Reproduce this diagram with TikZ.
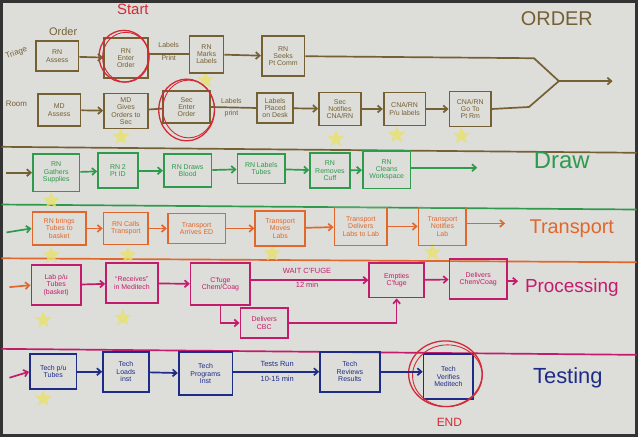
\documentclass[tikz,border=0pt]{standalone}
\usepackage{fontspec}
\setmainfont{Liberation Sans}
\usetikzlibrary{arrows.meta,shapes.geometric}
\definecolor{brn}{HTML}{756033}
\definecolor{grn}{HTML}{2E9A4C}
\definecolor{org}{HTML}{E2672C}
\definecolor{mag}{HTML}{C41C6C}
\definecolor{blu}{HTML}{1E2C88}
\definecolor{rd}{HTML}{D42A36}
\definecolor{yel}{HTML}{E8E26A}
\definecolor{bg}{HTML}{DDDDD9}
\begin{document}
\begin{tikzpicture}[x=1pt,y=-1pt,
  lw/.style={line width=1.7pt},
  bx/.style={draw,line width=1.7pt,align=center,inner sep=1pt,font=\fontsize{7}{7.4}\selectfont},
  wh/.style 2 args={minimum width=#1pt,minimum height=#2pt},
  arr/.style={-{Straight Barb[length=4pt,width=7pt]},line width=1.7pt},
  lab/.style={font=\fontsize{7}{7.4}\selectfont,inner sep=0pt},
  big/.style={font=\fontsize{20}{22}\selectfont,inner sep=0pt},
  stx/.style={star,star points=5,star point ratio=2.3,fill=yel,opacity=0.8,minimum size=18pt,inner sep=0pt},
  ring/.style={draw=rd,line width=1.3pt,ellipse,inner sep=0pt}]
% background
\fill[bg] (0,0) rectangle (638,436);
\draw[black!80,line width=3pt] (0,0) rectangle (638,436);
\useasboundingbox (0,0) rectangle (638,436);
% separators
\draw[brn,lw] (0,146) -- (638,152);
\draw[grn,lw] (0,204) -- (638,209);
\draw[org,lw] (0,258) -- (638,262);
\draw[mag,lw] (0,349) -- (638,355);
% stars
\node[stx] (s1) at (205,79) {};
\node[stx] (s2) at (120,136) {};
\node[stx] (s3) at (336,138) {};
\node[stx] (s4) at (397,134) {};
\node[stx] (s5) at (462,135) {};
\node[stx] (s6) at (50,200) {};
\node[stx] (s7) at (50,255) {};
\node[stx] (s8) at (127,255) {};
\node[stx] (s9) at (272,253) {};
\node[stx] (s10) at (433,252) {};
\node[stx] (s11) at (42,320) {};
\node[stx] (s12) at (122,318) {};
\node[stx] (s13) at (42,399) {};
% titles
\node[big,text=brn] (tORDER) at (558,17) {ORDER};
\node[big,text=grn,font=\fontsize{24}{26}\selectfont] (tDraw) at (563,160) {Draw};
\node[big,text=org] (tTransport) at (573,228) {Transport};
\node[big,text=mag,font=\fontsize{19}{21}\selectfont] (tProc) at (573,287) {Processing};
\node[big,text=blu,font=\fontsize{22}{24}\selectfont] (tTest) at (569,378) {Testing};
\node[text=rd,font=\fontsize{15}{16}\selectfont,inner sep=0pt] (tStart) at (132,8) {Start};
\node[text=rd,font=\fontsize{12}{13}\selectfont,inner sep=0pt] (tEnd) at (450,423) {END};
\node[text=brn,font=\fontsize{11}{12}\selectfont,inner sep=0pt] (tOrder) at (62,30) {Order};
\node[text=brn,font=\fontsize{8}{9}\selectfont,inner sep=0pt,rotate=20] (tTriage) at (15,52) {Triage};
\node[text=brn,font=\fontsize{8}{9}\selectfont,inner sep=0pt] (tRoom) at (15,103) {Room};
% ---------- ORDER row 1 ----------
\node[bx,brn,wh={43}{30}] (ra) at (56,55) {RN\\Assess};
\node[bx,brn,wh={44}{40}] (rb) at (125,57) {RN\\Enter\\Order};
\node[bx,brn,wh={34}{37}] (rc) at (206,53) {RN\\Marks\\Labels};
\node[bx,brn,wh={43}{40}] (rd) at (283,55) {RN\\Seeks\\Pt Comm};
\node[ring,minimum width=50pt,minimum height=52pt] (c1) at (123,55) {};
\node[ring,minimum width=47pt,minimum height=50pt,line width=0.9pt] (c1b) at (125,56) {};
\node[lab,text=brn] (l1a) at (168,44) {Labels};
\node[lab,text=brn] (l1b) at (168,57) {Print};
\draw[arr,brn] (ra) -- (rb);
\draw[lw,brn] (rb.east |- rc.west) -- (rc.west);
\draw[arr,brn] (rc) -- (rd);
% ---------- ORDER row 2 ----------
\node[bx,brn,wh={43}{32}] (sa) at (58,109) {MD\\Assess};
\node[bx,brn,wh={44}{35}] (sb) at (125,110) {MD\\Gives\\Orders to\\Sec};
\node[bx,brn,wh={47}{32}] (sc) at (186,106) {Sec\\Enter\\Order};
\node[bx,brn,wh={36}{30}] (sd) at (275,107) {Labels\\Placed\\on Desk};
\node[bx,brn,wh={42}{33}] (se) at (340,108) {Sec\\Notifies\\CNA/RN};
\node[bx,brn,wh={42}{33}] (sf) at (405,108) {CNA/RN\\P/u labels};
\node[bx,brn,wh={42}{35}] (sg) at (471,108) {CNA/RN\\Go To\\Pt Rm};
\node[ring,minimum width=56pt,minimum height=62pt] (c2) at (186,109) {};
\node[ring,minimum width=52pt,minimum height=58pt,line width=0.9pt] (c2b) at (188,108) {};
\node[lab,text=brn] (l2a) at (231,100) {Labels};
\node[lab,text=brn] (l2b) at (231,113) {print};
\draw[arr,brn] (sa) -- (sb);
\draw[lw,brn] (sb) -- (sc);
\draw[lw,brn] (sc.east) -- (sd.west);
\draw[arr,brn] (sd) -- (se);
\draw[arr,brn] (se) -- (sf);
\draw[arr,brn] (sf) -- (sg);
% merge
\coordinate (k1) at (535,57);
\coordinate (k2) at (530,106);
\coordinate (m) at (560,80);
\coordinate (mend) at (614,80);
\draw[lw,brn] (rd.east) -- (k1) -- (m);
\draw[lw,brn] (sg.east) -- (k2) -- (m);
\draw[arr,brn] (m) -- (mend);
% ---------- DRAW ----------
\coordinate (d0) at (5,172);
\node[bx,grn,wh={47}{38}] (da) at (55,172) {RN\\Gathers\\Supplies};
\node[bx,grn,wh={40}{35}] (db) at (117,170) {RN 2\\Pt ID};
\node[bx,grn,wh={48}{33}] (dc) at (187,170) {RN Draws\\Blood};
\node[bx,grn,wh={48}{30}] (dd) at (261,168) {RN Labels\\Tubes};
\node[bx,grn,wh={40}{35}] (de) at (330,170) {RN\\Removes\\Cuff};
\node[bx,grn,wh={48}{38}] (df) at (387,169) {RN\\Cleans\\Workspace};
\coordinate (dend) at (478,167);
\draw[arr,brn] (d0) -- (da.west);
\draw[arr,grn] (da) -- (db);
\draw[arr,grn] (db) -- (dc);
\draw[arr,grn] (dc) -- (dd);
\draw[arr,grn] (dd) -- (de);
\draw[arr,grn] (de) -- (df);
\draw[arr,grn] (df.east |- dend) -- (dend);
% ---------- TRANSPORT ----------
\coordinate (t0) at (5,232);
\node[bx,org,wh={54}{33}] (ta) at (58,228) {RN brings\\Tubes to\\basket};
\node[bx,org,wh={45}{32}] (tb) at (125,228) {RN Calls\\Transport};
\node[bx,org,wh={58}{30}] (tc) at (196,228) {Transport\\Arrives ED};
\node[bx,org,wh={50}{35}] (td) at (280,228) {Transport\\Moves\\Labs};
\node[bx,org,wh={53}{38}] (te) at (361,226) {Transport\\Delivers\\Labs to Lab};
\node[bx,org,wh={48}{38}] (tf) at (443,226) {Transport\\Notifies\\Lab};
\coordinate (tend) at (506,223);
\draw[arr,grn] (t0) -- (ta.west);
\draw[arr,org] (ta) -- (tb);
\draw[arr,org] (tb) -- (tc);
\draw[arr,org] (tc) -- (td);
\draw[arr,org] (td) -- (te);
\draw[arr,org] (te) -- (tf);
\draw[arr,org] (tf.east |- tend) -- (tend);
% ---------- PROCESSING ----------
\coordinate (p0) at (8,287);
\node[bx,mag,wh={50}{40}] (pa) at (55,285) {Lab p/u\\Tubes\\(basket)};
\node[bx,mag,wh={52}{40}] (pb) at (131,283) {``Receives''\\in Meditech};
\node[bx,mag,wh={60}{42}] (pc) at (220,284) {C'fuge\\Chem/Coag};
\node[bx,mag,wh={48}{30}] (pd) at (264,323) {Delivers\\CBC};
\node[bx,mag,wh={55}{35}] (pe) at (397,280) {Empties\\C'fuge};
\node[bx,mag,wh={58}{40}] (pf) at (479,279) {Delivers\\Chem/Coag};
\coordinate (pend) at (519,281);
\node[lab,text=mag,font=\fontsize{7.5}{8}\selectfont] (lw1) at (307,271) {WAIT C'FUGE};
\node[lab,text=mag,font=\fontsize{7.5}{8}\selectfont] (lw2) at (307,285) {12 min};
\draw[arr,org] (p0) -- (pa.west);
\draw[arr,mag] (pa) -- (pb);
\draw[arr,mag] (pb) -- (pc);
\draw[arr,mag] (pc.east |- pe.west) -- (pe.west);
\draw[arr,mag] (pe) -- (pf);
\draw[arr,mag] (pf.east |- pend) -- (pend);
\draw[arr,mag] (pc.south) |- (pd.west);
\draw[arr,mag] (pd.east) -| (pe.south);
% ---------- TESTING ----------
\coordinate (x0) at (8,378);
\node[bx,blu,wh={47}{35}] (xa) at (52,372) {Tech p/u\\Tubes};
\node[bx,blu,wh={46}{40}] (xb) at (125,372) {Tech\\Loads\\inst};
\node[bx,blu,wh={54}{43}] (xc) at (205,374) {Tech\\Programs\\Inst};
\node[bx,blu,wh={60}{40}] (xd) at (350,372) {Tech\\Reviews\\Results};
\node[bx,blu,wh={50}{45}] (xe) at (449,377) {Tech\\Verifies\\Meditech};
\node[ring,minimum width=74pt,minimum height=66pt] (c3) at (446,374) {};
\node[ring,minimum width=70pt,minimum height=62pt,line width=0.9pt] (c3b) at (448,376) {};
\node[lab,text=blu,font=\fontsize{7.5}{8}\selectfont] (lt1) at (277,364) {Tests Run};
\node[lab,text=blu,font=\fontsize{7.5}{8}\selectfont] (lt2) at (277,379) {10-15 min};
\draw[arr,mag] (x0) -- (xa.west);
\draw[arr,blu] (xa) -- (xb);
\draw[arr,blu] (xb) -- (xc);
\draw[arr,blu] (xc.east |- xd.west) -- (xd.west);
\draw[arr,blu] (xd.east) -- (xe.west |- xd.east);
\end{tikzpicture}
\end{document}
